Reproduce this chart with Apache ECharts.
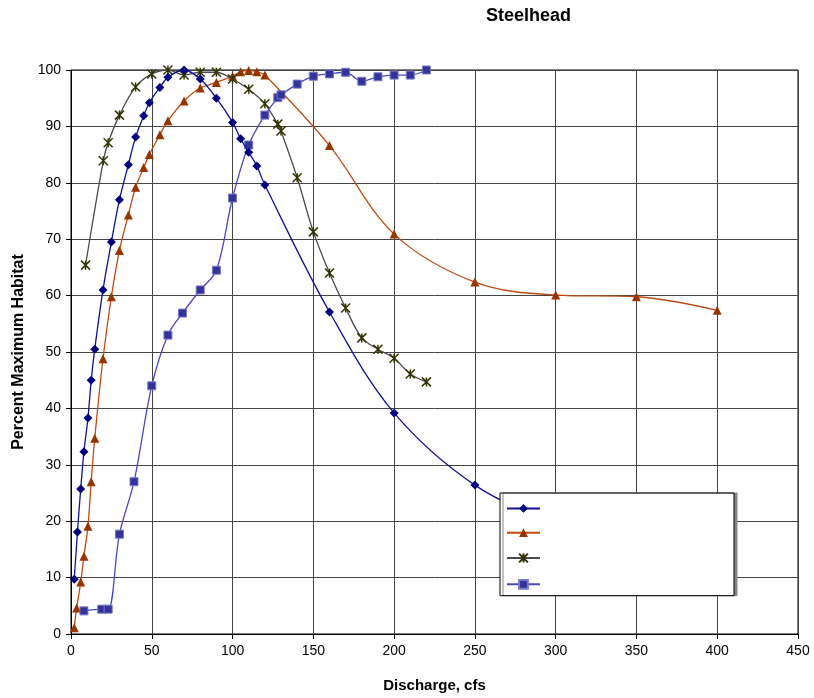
<!DOCTYPE html>
<html>
<head>
<meta charset="utf-8">
<script src="https://cdn.jsdelivr.net/npm/echarts@6/dist/echarts.min.js"></script>
<style>html,body{margin:0;padding:0;background:#fff;}#c{width:814px;height:698px;}</style>
</head>
<body>
<div id="c"></div>
<script>
// Data
var xTicks = [0,50,100,150,200,250,300,350,400,450];
var yTicks = [0,10,20,30,40,50,60,70,80,90,100];

var diamondX = [2,4,6,8,10.5,12.5,14.7,19.8,25,30,35.5,40,45,48.5,55,60,70,80,90,100,105,110,115,120,160,200,250,300,350,400];
var diamondY = [9.7,18.1,25.7,32.3,38.3,45.0,50.5,61.0,69.5,77.0,83.2,88.1,91.9,94.2,96.9,98.7,100,98.4,95.0,90.7,87.8,85.4,83.0,79.6,57.1,39.2,26.4,19.8,15.8,13.2];

var triangleX = [2,3.5,6,8,10.5,12.5,14.7,19.8,25,30,35.5,40,45,48.5,55,60,70,80,90,100,105,110,115,120,160,200,250,300,350,400];
var triangleY = [1.1,4.6,9.2,13.8,19.1,27.0,34.7,48.8,59.8,68.0,74.3,79.2,82.7,85.0,88.5,91.0,94.5,96.8,97.8,98.9,99.7,99.9,99.7,99.1,86.6,70.9,62.4,60.1,59.8,57.4];

var starX = [9,20,23,30,40,50,60,70,80,90,100,110,120,128,130,140,150,160,170,180,190,200,210,220];
var starY = [65.4,83.9,87.1,92.0,97.0,99.3,100,99.1,99.6,99.6,98.4,96.6,94.0,90.4,89.2,80.9,71.3,64.0,57.8,52.5,50.5,48.9,46.1,44.7];

var squareX = [8,19,23,30,39,50,60,69,80,90,100,110,120,128,130,140,150,160,170,180,190,200,210,220];
var squareY = [4.1,4.4,4.4,17.7,27.0,44.0,53.0,56.9,61.0,64.5,77.3,86.7,92.0,95.1,95.6,97.5,98.9,99.3,99.6,98.0,98.8,99.1,99.1,100];

function pairs(xs, ys){ return xs.map(function(x,i){ return [x, ys[i]]; }); }

var FONT = 'Liberation Sans, Arial, sans-serif';
var chart = echarts.init(document.getElementById('c'), null, {renderer:'canvas'});
var starPath = 'path://M0,0L10,10M10,0L0,10M5,0L5,10';

chart.setOption({
  animation: false,
  backgroundColor: '#ffffff',
  title: {
    text: 'Steelhead',
    left: 481, top: 2,
    textStyle: {fontFamily: FONT, fontSize: 18, fontWeight: 'bold', color: '#000'}
  },
  grid: {left: 71, right: 16, top: 70, bottom: 64, show: true, borderColor: '#000', borderWidth: 1, backgroundColor: 'transparent'},
  xAxis: {
    type: 'value', min: 0, max: 450, interval: 50,
    name: 'Discharge, cfs', nameLocation: 'middle', nameGap: 44,
    nameTextStyle: {fontFamily: FONT, fontSize: 15, fontWeight: 'bold', color: '#000'},
    axisLine: {show: true, onZero: false, lineStyle: {color: '#000', width: 1}},
    axisTick: {show: true, inside: false, length: 5, lineStyle: {color: '#000'}},
    axisLabel: {fontFamily: FONT, fontSize: 14, color: '#000', margin: 10,
      formatter: function(v){ return xTicks.indexOf(v) >= 0 ? String(v) : ''; }},
    splitLine: {show: true, lineStyle: {color: '#444', width: 1}}
  },
  yAxis: {
    type: 'value', min: 0, max: 100, interval: 10,
    name: 'Percent Maximum Habitat', nameLocation: 'middle', nameGap: 44,
    nameTextStyle: {fontFamily: FONT, fontSize: 16, fontWeight: 'bold', color: '#000'},
    axisLine: {show: true, onZero: false, lineStyle: {color: '#000', width: 1}},
    axisTick: {show: true, inside: false, length: 5, lineStyle: {color: '#000'}},
    axisLabel: {fontFamily: FONT, fontSize: 14, color: '#000', margin: 10,
      formatter: function(v){ return yTicks.indexOf(v) >= 0 ? String(v) : ''; }},
    splitLine: {show: true, lineStyle: {color: '#444', width: 1}}
  },
  legend: {
    z: 20,
    orient: 'vertical', left: 500, top: 493,
    itemWidth: 33, itemHeight: 11, itemGap: 15.5,
    padding: [11, 189, 6, 6],
    backgroundColor: '#fff', borderColor: '#000', borderWidth: 1,
    shadowColor: '#888', shadowOffsetX: 3, shadowOffsetY: 0, shadowBlur: 0,
    formatter: function(){ return ''; },
    textStyle: {fontSize: 11, lineHeight: 11},
    data: ['d','t','s','q']
  },
  series: [
    {name: 'd', type: 'line', data: pairs(diamondX, diamondY), smooth: 0.35,
     symbol: 'diamond', symbolSize: 9, showSymbol: true,
     lineStyle: {color: '#10109a', width: 1.3}, itemStyle: {color: '#000080'}, z: 4},
    {name: 't', type: 'line', data: pairs(triangleX, triangleY), smooth: 0.35,
     symbol: 'triangle', symbolSize: 9,
     lineStyle: {color: '#c04a10', width: 1.3}, itemStyle: {color: '#993300'}, z: 3},
    {name: 's', type: 'line', data: pairs(starX, starY), smooth: 0.35,
     symbol: starPath, symbolSize: 9,
     lineStyle: {color: '#4a4a4a', width: 1.3}, itemStyle: {color: 'rgba(0,0,0,0)', borderColor: '#333300', borderWidth: 1.5}, z: 3},
    {name: 'q', type: 'line', data: pairs(squareX, squareY), smooth: 0.35,
     symbol: 'rect', symbolSize: 8,
     lineStyle: {color: '#4848c0', width: 1.3}, itemStyle: {color: '#333399', borderColor: '#7878c8', borderWidth: 1}, z: 3}
  ]
});
</script>
</body>
</html>
